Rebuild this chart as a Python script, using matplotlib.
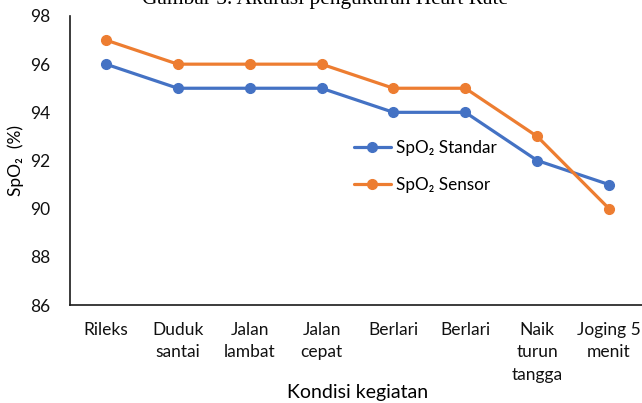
import matplotlib.pyplot as plt

kegiatan = ['Rileks', 'Duduk\nsantai', 'Jalan\nlambat', 'Jalan\ncepat', 'Berlari',
            'Berlari', 'Naik\nturun\ntangga', 'Joging 5\nmenit']
spo2_standar = [96, 95, 95, 95, 94, 94, 92, 91]
spo2_sensor = [97, 96, 96, 96, 95, 95, 93, 90]
y_ticks = [86, 88, 90, 92, 94, 96, 98]

plt.rcParams['font.family'] = ['Lato', 'DejaVu Sans']

fig = plt.figure(figsize=(6.42, 4.03), dpi=100)
ax = fig.add_axes([70 / 642, 1 - 305 / 403, 575 / 642, 289 / 403])

x = list(range(len(kegiatan)))
ax.plot(x, spo2_standar, color='#4472C4', lw=2.3, marker='o', markersize=7,
        label='SpO₂ Standar', solid_capstyle='round')
ax.plot(x, spo2_sensor, color='#ED7D31', lw=2.3, marker='o', markersize=7,
        label='SpO₂ Sensor', solid_capstyle='round')

ax.set_xlim(-0.5, len(kegiatan) - 0.5)
ax.set_ylim(86, 98)
ax.set_yticks(y_ticks)
ax.set_xticks(x)
ax.set_xticklabels(kegiatan, fontsize=12.5, linespacing=1.5, va='top')
ax.tick_params(axis='both', length=0, labelsize=12.5, colors='#111111')
ax.tick_params(axis='x', pad=12)
ax.tick_params(axis='y', pad=14)
for s in ['top', 'right']:
    ax.spines[s].set_visible(False)
for s in ['left', 'bottom']:
    ax.spines[s].set_color('#1a1a1a')
    ax.spines[s].set_linewidth(1.2)

ax.set_ylabel('SpO₂  (%)', fontsize=12.5)
ax.yaxis.set_label_coords(-46 / 575, 0.5)
ax.set_xlabel('Kondisi kegiatan', fontsize=14)
ax.xaxis.set_label_coords(0.5, -0.275)

ax.legend(loc='upper left', bbox_to_anchor=(345 / 642, 1 - 131 / 403),
          bbox_transform=fig.transFigure, frameon=False, fontsize=12.3,
          handlelength=2.2, handletextpad=0.3, labelspacing=1.25, borderpad=0)

fig.text(0.507, 1 - 4 / 403, 'Gambar 3. Akurasi pengukuran Heart Rate',
         family='Liberation Serif', fontsize=15.4, ha='center', va='baseline')

fig.savefig('out.png', dpi=100)
